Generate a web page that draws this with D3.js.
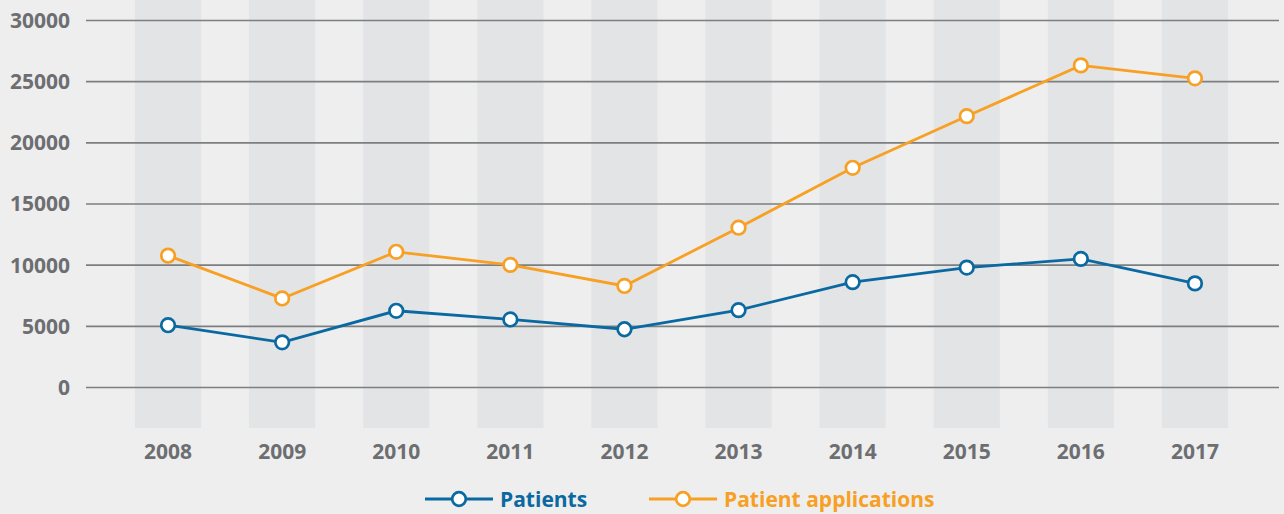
<!DOCTYPE html>
<html>
<head>
<meta charset="utf-8">
<script src="https://cdn.jsdelivr.net/npm/d3@7"></script>
<style>
  html, body { margin: 0; padding: 0; background: #eeeeee; }
  svg { display: block; }
  text { font-family: "Open Sans", sans-serif; font-weight: 700; }
</style>
</head>
<body>
<svg id="chart" width="1284" height="514"></svg>
<script>
// Yearly counts
const years = ["2008", "2009", "2010", "2011", "2012", "2013", "2014", "2015", "2016", "2017"];
const patients = [5050, 3650, 6230, 5520, 4720, 6280, 8570, 9760, 10470, 8470];
const applications = [10740, 7240, 11050, 9980, 8260, 13020, 17920, 22140, 26290, 25230];
const yTicks = [0, 5000, 10000, 15000, 20000, 25000, 30000];
const seriesNames = ["Patients", "Patient applications"];
const seriesColors = ["#0b69a1", "#f7a023"];

const svg = d3.select("#chart");
const W = 1284, H = 514;

svg.append("rect").attr("width", W).attr("height", H).attr("fill", "#eeeeee");

const x = d3.scaleBand()
  .domain(years)
  .range([111, 1252])
  .paddingInner(0.42)
  .paddingOuter(0.21);

const y = d3.scaleLinear().domain([0, 30000]).range([387, 20]);

// Alternating column bands behind each year
svg.append("g").selectAll("rect")
  .data(years)
  .join("rect")
  .attr("x", d => x(d))
  .attr("y", 0)
  .attr("width", x.bandwidth())
  .attr("height", 428)
  .attr("fill", "#e3e4e6");

// Horizontal gridlines + value labels
const yAxis = d3.axisLeft(y).tickValues(yTicks).tickSize(-(1279 - 86)).tickPadding(16).tickFormat(d3.format("d"));
const gy = svg.append("g").attr("transform", "translate(86,0)").call(yAxis);
gy.select(".domain").remove();
gy.selectAll(".tick line").attr("stroke", "#7d7e80").attr("stroke-width", 1.6);
gy.selectAll(".tick text")
  .attr("fill", "#6d6e71")
  .attr("font-size", 21)
  .attr("dy", "0.35em");

// Year labels
const xAxis = d3.axisBottom(x).tickSize(0).tickPadding(0);
const gx = svg.append("g").attr("transform", "translate(0,459)").call(xAxis);
gx.select(".domain").remove();
gx.selectAll(".tick text")
  .attr("fill", "#6d6e71")
  .attr("font-size", 21)
  .attr("dy", 0)
  .attr("y", 0);

const cx = d => x(d) + x.bandwidth() / 2;
const line = d3.line().x(d => cx(d.year)).y(d => y(d.value));

[patients, applications].forEach((vals, i) => {
  const data = years.map((yr, j) => ({ year: yr, value: vals[j] }));
  const g = svg.append("g");
  g.append("path")
    .datum(data)
    .attr("d", line)
    .attr("fill", "none")
    .attr("stroke", seriesColors[i])
    .attr("stroke-width", 2.8);
  g.selectAll("circle")
    .data(data)
    .join("circle")
    .attr("cx", d => cx(d.year))
    .attr("cy", d => y(d.value))
    .attr("r", 6.8)
    .attr("fill", "#ffffff")
    .attr("stroke", seriesColors[i])
    .attr("stroke-width", 2.7);
});

// Legend
const legendX = [425, 649];
const legend = svg.append("g");
seriesNames.forEach((name, i) => {
  const lg = legend.append("g").attr("transform", `translate(${legendX[i]},499)`);
  lg.append("line").attr("x1", 0).attr("x2", 68).attr("y1", 0).attr("y2", 0)
    .attr("stroke", seriesColors[i]).attr("stroke-width", 2.8);
  lg.append("circle").attr("cx", 34).attr("cy", 0).attr("r", 6.8)
    .attr("fill", "#ffffff").attr("stroke", seriesColors[i]).attr("stroke-width", 2.7);
  lg.append("text").attr("x", 75).attr("y", 7.5)
    .attr("fill", seriesColors[i]).attr("font-size", 21).text(name);
});
</script>
</body>
</html>
